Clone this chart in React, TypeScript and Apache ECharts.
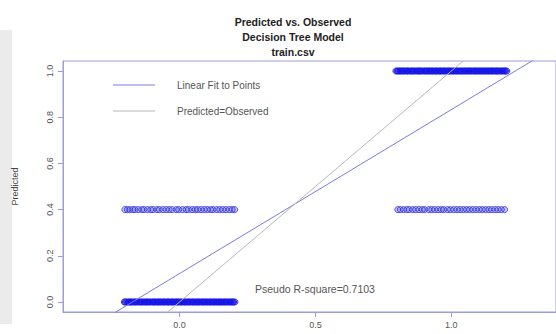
import React, { useEffect, useRef } from "react";
import * as echarts from "echarts";

const titleLines = ["Predicted vs. Observed", "Decision Tree Model", "train.csv"];
const yAxisName = "Predicted";
const xTicks = [0, 0.5, 1.0];
const yTicks = [0, 0.2, 0.4, 0.6, 0.8, 1.0];
const legendLabels = ["Linear Fit to Points", "Predicted=Observed"];
const rsqLabel = "Pseudo R-square=0.7103";

// fitted line: predicted = slope * observed + intercept
const fitSlope = 0.71;
const fitIntercept = 0.123;

// jittered observed values for each predicted level
const obs0pred0 = [-0.203,-0.199,-0.194,-0.188,-0.185,-0.179,-0.176,-0.171,-0.165,-0.161,-0.157,-0.150,-0.146,-0.141,-0.137,-0.131,-0.126,-0.122,-0.117,-0.112,-0.108,-0.101,-0.097,-0.093,-0.088,-0.082,-0.079,-0.073,-0.069,-0.064,-0.058,-0.055,-0.049,-0.044,-0.040,-0.035,-0.029,-0.026,-0.021,-0.015,-0.011,-0.006,-0.002,0.004,0.008,0.013,0.018,0.021,0.027,0.032,0.036,0.041,0.047,0.050,0.056,0.061,0.065,0.070,0.074,0.080,0.085,0.089,0.094,0.099,0.103,0.109,0.113,0.118,0.124,0.127,0.133,0.138,0.142,0.147,0.152,0.156,0.162,0.166,0.171,0.175,0.181,0.186,0.190,0.195,0.199,0.204];
const obs0pred04 = [-0.201,-0.192,-0.183,-0.171,-0.164,-0.152,-0.139,-0.131,-0.118,-0.106,-0.097,-0.083,-0.074,-0.061,-0.049,-0.038,-0.027,-0.012,-0.003,0.011,0.024,0.033,0.046,0.058,0.067,0.079,0.091,0.102,0.114,0.123,0.137,0.148,0.159,0.171,0.183,0.194,0.203];
const obs1pred04 = [0.803,0.812,0.824,0.836,0.845,0.858,0.869,0.881,0.893,0.902,0.917,0.928,0.939,0.951,0.963,0.972,0.986,0.997,1.009,1.021,1.032,1.044,1.056,1.067,1.079,1.091,1.103,1.114,1.126,1.138,1.149,1.161,1.172,1.184,1.196];
const obs1pred1 = [0.796,0.801,0.805,0.811,0.814,0.820,0.824,0.829,0.835,0.839,0.843,0.850,0.854,0.859,0.863,0.869,0.874,0.878,0.883,0.888,0.892,0.899,0.903,0.907,0.912,0.918,0.921,0.927,0.931,0.936,0.942,0.945,0.951,0.956,0.960,0.965,0.971,0.974,0.979,0.985,0.989,0.994,0.998,1.004,1.008,1.013,1.018,1.021,1.027,1.032,1.036,1.041,1.047,1.050,1.056,1.061,1.065,1.070,1.074,1.080,1.085,1.089,1.094,1.099,1.103,1.109,1.113,1.118,1.124,1.127,1.133,1.138,1.142,1.147,1.152,1.156,1.162,1.166,1.171,1.175,1.181,1.186,1.190,1.195,1.199,1.204];

const xMin = -0.4286;
const xMax = 1.385;
const yMin = -0.0433;
const yMax = 1.0433;

const axisColor = "#9d9dd8";
const pointColor = "#1212e8";
const fitColor = "#7c7cd8";
const idColor = "#b8b8b8";
const textColor = "#555555";
const font = "'Liberation Sans', Arial, Helvetica, sans-serif";

export default function App() {
  const ref = useRef<HTMLDivElement>(null);
  useEffect(() => {
    document.body.style.margin = "0";
    const chart = echarts.init(ref.current!, null, { renderer: "svg" });
    const dense = {
      type: "scatter" as const,
      symbol: "circle",
      symbolSize: 6,
      itemStyle: { color: "rgba(20,20,230,0.45)", borderColor: pointColor, borderWidth: 1 },
      z: 3,
    };
    const light = {
      type: "scatter" as const,
      symbol: "circle",
      symbolSize: 6,
      itemStyle: { color: "rgba(60,60,220,0.35)", borderColor: "#3030e0", borderWidth: 1 },
      z: 3,
    };
    chart.setOption({
      animation: false,
      backgroundColor: "#ffffff",
      textStyle: { fontFamily: font },
      grid: {
        left: 63, top: 61, right: -3, bottom: 22,
        show: true, borderColor: axisColor, borderWidth: 1, backgroundColor: "transparent",
      },
      xAxis: {
        type: "value", min: xMin, max: xMax,
        axisLine: { show: true, onZero: false, lineStyle: { color: axisColor } },
        axisTick: { show: true, customValues: xTicks, length: 5, lineStyle: { color: axisColor } },
        axisLabel: {
          customValues: xTicks, color: textColor, fontSize: 9, margin: 8,
          formatter: (v: number) => v.toFixed(1),
        },
        splitLine: { show: false },
      },
      yAxis: {
        type: "value", min: yMin, max: yMax,
        name: yAxisName, nameLocation: "middle", nameGap: 44, nameRotate: 90,
        nameTextStyle: { color: "#444", fontSize: 9 },
        axisLine: { show: true, onZero: false, lineStyle: { color: axisColor } },
        axisTick: { show: true, customValues: yTicks, length: 5, lineStyle: { color: axisColor } },
        axisLabel: {
          customValues: yTicks, color: textColor, fontSize: 9, margin: 9, rotate: 90,
          formatter: (v: number) => v.toFixed(1),
        },
        splitLine: { show: false },
      },
      series: [
        { ...dense, data: obs0pred0.map((x) => [x, 0]) },
        { ...light, data: obs0pred04.map((x) => [x, 0.4]) },
        { ...light, data: obs1pred04.map((x) => [x, 0.4]) },
        { ...dense, data: obs1pred1.map((x) => [x, 1]) },
        {
          type: "line", symbol: "none", z: 4,
          lineStyle: { color: fitColor, width: 1 },
          data: [[xMin, fitSlope * xMin + fitIntercept], [xMax, fitSlope * xMax + fitIntercept]],
        },
        {
          type: "line", symbol: "none", z: 4, clip: true,
          lineStyle: { color: idColor, width: 1 },
          data: [[yMin, yMin], [yMax, yMax]],
        },
      ],
      graphic: [
        { type: "rect", shape: { x: 0, y: 30, width: 12, height: 294 }, style: { fill: "#ebebeb" }, z: 0 },
        ...titleLines.map((t, i) => ({
          type: "text", x: 293, y: 22 + i * 15,
          style: { text: t, fill: "#222", font: `bold 10.5px ${font}`, align: "center", verticalAlign: "middle" },
        })),
        { type: "line", shape: { x1: 113, y1: 85, x2: 155, y2: 85 }, style: { stroke: fitColor, lineWidth: 1 } },
        { type: "line", shape: { x1: 113, y1: 111, x2: 155, y2: 111 }, style: { stroke: idColor, lineWidth: 1 } },
        ...legendLabels.map((t, i) => ({
          type: "text", x: 177, y: 85 + i * 26,
          style: { text: t, fill: textColor, font: `10px ${font}`, align: "left", verticalAlign: "middle" },
        })),
        {
          type: "text", x: 255, y: 289,
          style: { text: rsqLabel, fill: textColor, font: `10.5px ${font}`, align: "left", verticalAlign: "middle" },
        },
      ],
    });
    return () => chart.dispose();
  }, []);
  return <div ref={ref} style={{ width: 556, height: 334 }} />;
}
